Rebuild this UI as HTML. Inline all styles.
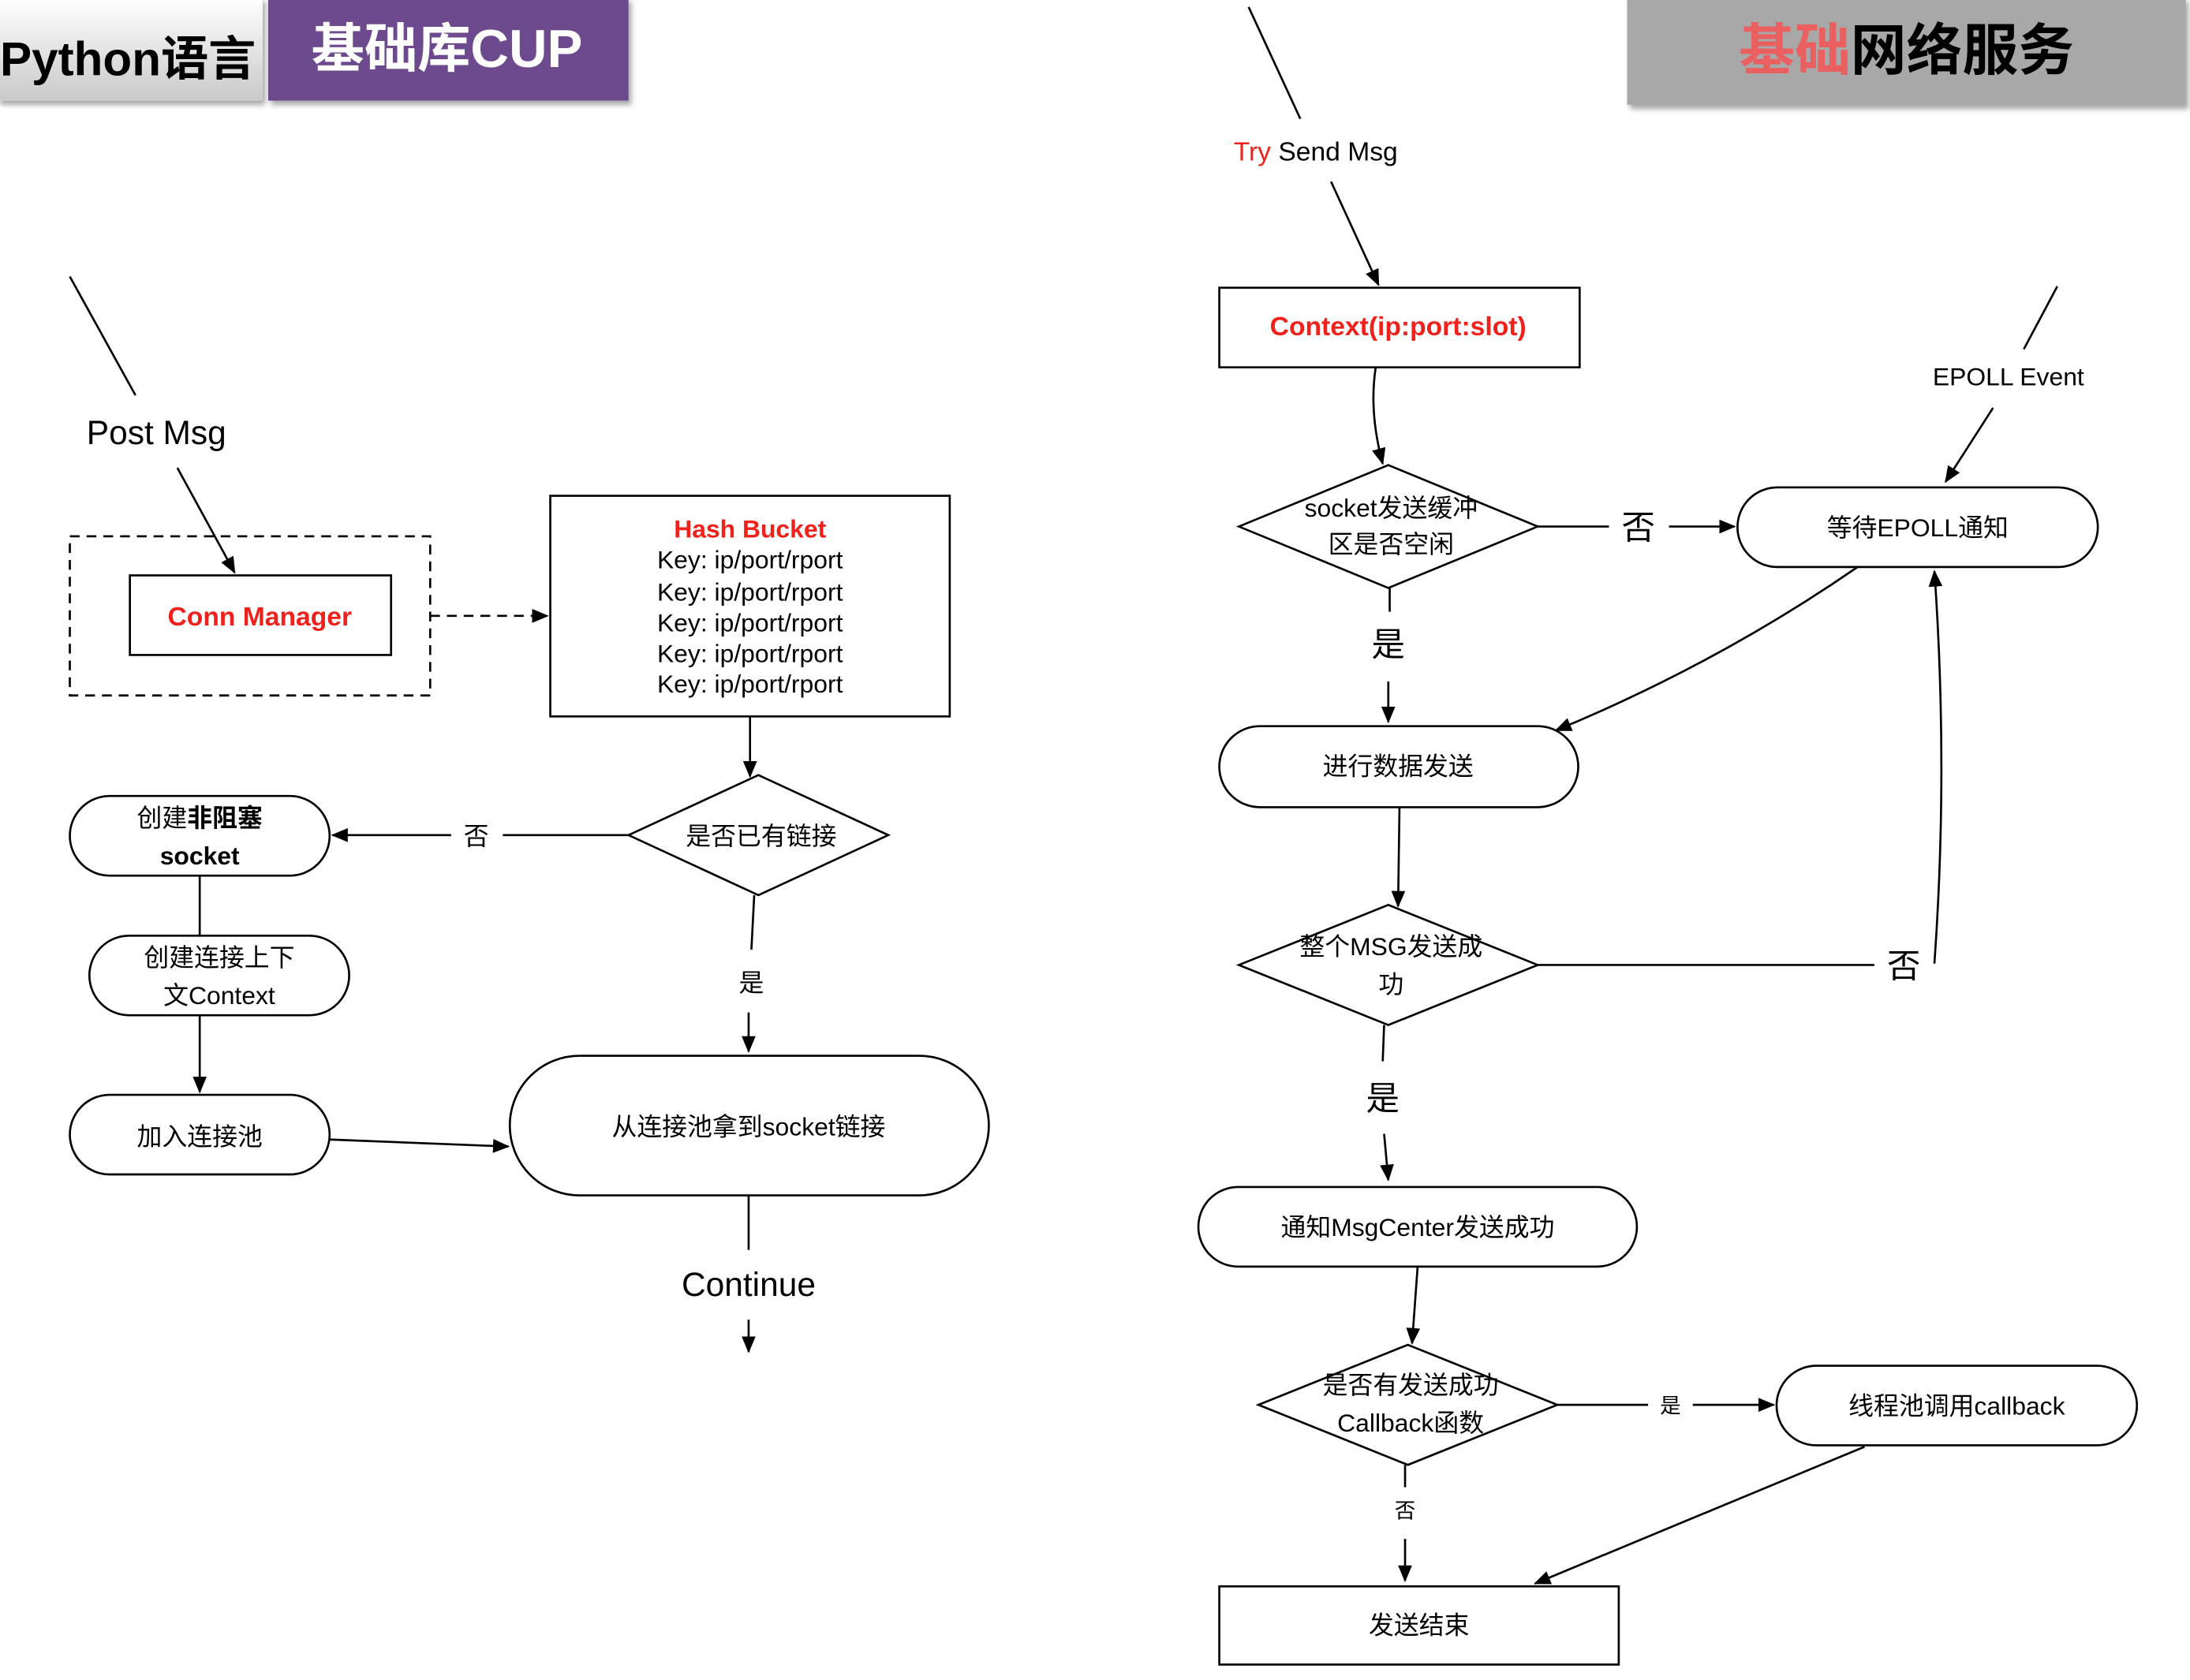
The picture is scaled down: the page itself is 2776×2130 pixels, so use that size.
<!DOCTYPE html>
<html><head><meta charset="utf-8"><style>
html,body{margin:0;padding:0;background:#fff;}
svg{display:block;}
text{font-family:"Liberation Sans","Noto Sans CJK SC",sans-serif;}
</style></head><body>
<svg width="2776" height="2130" viewBox="0 0 1568 1203" xmlns="http://www.w3.org/2000/svg">
<defs>
<marker id="a" markerWidth="12" markerHeight="10" refX="11" refY="5" orient="auto" markerUnits="userSpaceOnUse"><path d="M0,0 L12,5 L0,10 z" fill="#000"/></marker>
<linearGradient id="g" x1="0" y1="0" x2="0" y2="1"><stop offset="0" stop-color="#ffffff"/><stop offset="1" stop-color="#c9c9c9"/></linearGradient>
<filter id="sh" x="-5%" y="-10%" width="110%" height="130%"><feDropShadow dx="2" dy="3" stdDeviation="2" flood-color="#000" flood-opacity="0.35"/></filter>
</defs>
<g fill="none" stroke="#000" stroke-width="1.5">
<!-- headers -->
<rect x="-2" y="-2" width="190" height="74" fill="url(#g)" stroke="none" filter="url(#sh)"/>
<rect x="192" y="-2" width="258" height="74" fill="#6d4a8e" stroke="none" filter="url(#sh)"/>
<rect x="1165" y="-2" width="400" height="77" fill="#a7a8a7" stroke="none" filter="url(#sh)"/>

<!-- left -->
<line x1="50" y1="198" x2="97" y2="283"/>
<line x1="127" y1="335" x2="168" y2="410" marker-end="url(#a)"/>
<rect x="50" y="384" width="258" height="114" stroke-dasharray="7,5"/>
<rect x="93" y="412" width="187" height="57"/>
<line x1="308" y1="441" x2="392" y2="441" stroke-dasharray="7,5" marker-end="url(#a)"/>
<rect x="394" y="355" width="286" height="158"/>
<line x1="537" y1="513" x2="537" y2="556" marker-end="url(#a)"/>
<polygon points="450,598 543,555 636,598 543,641"/>
<line x1="450" y1="598" x2="360" y2="598"/>
<line x1="323" y1="598" x2="238" y2="598" marker-end="url(#a)"/>
<rect x="50" y="570" width="186" height="57" rx="28.5"/>
<line x1="143" y1="627" x2="143" y2="670"/>
<rect x="64" y="670" width="186" height="57" rx="28.5"/>
<line x1="143" y1="727" x2="143" y2="782" marker-end="url(#a)"/>
<rect x="50" y="784" width="186" height="57" rx="28.5"/>
<line x1="236" y1="816" x2="364" y2="821" marker-end="url(#a)"/>
<line x1="540" y1="641" x2="538" y2="680"/>
<line x1="536" y1="725" x2="536" y2="753" marker-end="url(#a)"/>
<rect x="365" y="756" width="343" height="100" rx="50"/>
<line x1="536" y1="856" x2="536" y2="895"/>
<line x1="536" y1="945" x2="536" y2="968" marker-end="url(#a)"/>

<!-- right -->
<line x1="894" y1="5" x2="931" y2="85"/>
<line x1="953" y1="130" x2="987" y2="204" marker-end="url(#a)"/>
<rect x="873" y="206" width="258" height="57"/>
<path d="M985,263 Q980,295 990,332" marker-end="url(#a)"/>
<polygon points="887,377 994,333 1101,377 994,421"/>
<line x1="1101" y1="377" x2="1152" y2="377"/>
<line x1="1195" y1="377" x2="1242" y2="377" marker-end="url(#a)"/>
<rect x="1244" y="349" width="258" height="57" rx="28.5"/>
<line x1="1473" y1="205" x2="1449" y2="250"/>
<line x1="1427" y1="292" x2="1393" y2="345" marker-end="url(#a)"/>
<line x1="995" y1="421" x2="995" y2="438"/>
<line x1="994" y1="488" x2="994" y2="517" marker-end="url(#a)"/>
<rect x="873" y="520" width="257" height="58" rx="29"/>
<path d="M1330,406 Q1230,475 1114,523" marker-end="url(#a)"/>
<line x1="1002" y1="578" x2="1001" y2="649" marker-end="url(#a)"/>
<polygon points="887,691 994,648 1101,691 994,734"/>
<line x1="1101" y1="691" x2="1342" y2="691"/>
<path d="M1385,690 Q1395,550 1385,409" marker-end="url(#a)"/>
<line x1="991" y1="734" x2="990" y2="760"/>
<line x1="991" y1="812" x2="994" y2="845" marker-end="url(#a)"/>
<rect x="858" y="850" width="314" height="57" rx="28.5"/>
<line x1="1015" y1="907" x2="1011" y2="962" marker-end="url(#a)"/>
<polygon points="901,1006 1008,963 1115,1006 1008,1049"/>
<line x1="1115" y1="1006" x2="1180" y2="1006"/>
<line x1="1212" y1="1006" x2="1270" y2="1006" marker-end="url(#a)"/>
<rect x="1272" y="978" width="258" height="57" rx="28.5"/>
<line x1="1006" y1="1049" x2="1006" y2="1065"/>
<line x1="1006" y1="1102" x2="1006" y2="1132" marker-end="url(#a)"/>
<rect x="873" y="1136" width="286" height="56"/>
<line x1="1335" y1="1036" x2="1099" y2="1134" marker-end="url(#a)"/>
</g>

<g font-size="18" fill="#000" text-anchor="middle">
<text x="0" y="54" font-size="34" font-weight="bold" text-anchor="start">Python语言</text>
<text x="320" y="48" font-size="38" font-weight="bold" fill="#fff">基础库CUP</text>
<text x="1365" y="50" font-size="40" font-weight="bold"><tspan fill="#ea5f5f">基础</tspan>网络服务</text>

<text x="112" y="318" font-size="24">Post Msg</text>
<text x="186" y="448" font-size="19" font-weight="bold" fill="#f0201a">Conn Manager</text>
<text x="537" y="385" font-weight="bold" fill="#f0201a">Hash Bucket</text>
<text x="537" y="407">Key: ip/port/rport</text>
<text x="537" y="430">Key: ip/port/rport</text>
<text x="537" y="452">Key: ip/port/rport</text>
<text x="537" y="474">Key: ip/port/rport</text>
<text x="537" y="496">Key: ip/port/rport</text>
<text x="545" y="605">是否已有链接</text>
<text x="341" y="605">否</text>
<text x="143" y="592">创建<tspan font-weight="bold">非阻塞</tspan></text>
<text x="143" y="619" font-weight="bold">socket</text>
<text x="157" y="692">创建连接上下</text>
<text x="157" y="719">文Context</text>
<text x="143" y="820">加入连接池</text>
<text x="538" y="710">是</text>
<text x="536" y="813">从连接池拿到socket链接</text>
<text x="536" y="928" font-size="24">Continue</text>

<text x="942" y="115" font-size="19"><tspan fill="#f0201a">Try</tspan> Send Msg</text>
<text x="1001" y="240" font-size="19" font-weight="bold" fill="#f0201a">Context(ip:port:slot)</text>
<text x="996" y="370">socket发送缓冲</text>
<text x="996" y="396">区是否空闲</text>
<text x="1173" y="386" font-size="24">否</text>
<text x="1373" y="384">等待EPOLL通知</text>
<text x="1438" y="276">EPOLL Event</text>
<text x="994" y="470" font-size="24">是</text>
<text x="1001" y="555">进行数据发送</text>
<text x="996" y="684">整个MSG发送成</text>
<text x="996" y="711">功</text>
<text x="1363" y="700" font-size="24">否</text>
<text x="990" y="795" font-size="24">是</text>
<text x="1015" y="885">通知MsgCenter发送成功</text>
<text x="1010" y="998">是否有发送成功</text>
<text x="1010" y="1025">Callback函数</text>
<text x="1196" y="1012" font-size="15">是</text>
<text x="1401" y="1013">线程池调用callback</text>
<text x="1006" y="1087" font-size="15">否</text>
<text x="1016" y="1170">发送结束</text>
</g>
</svg>
</body></html>
